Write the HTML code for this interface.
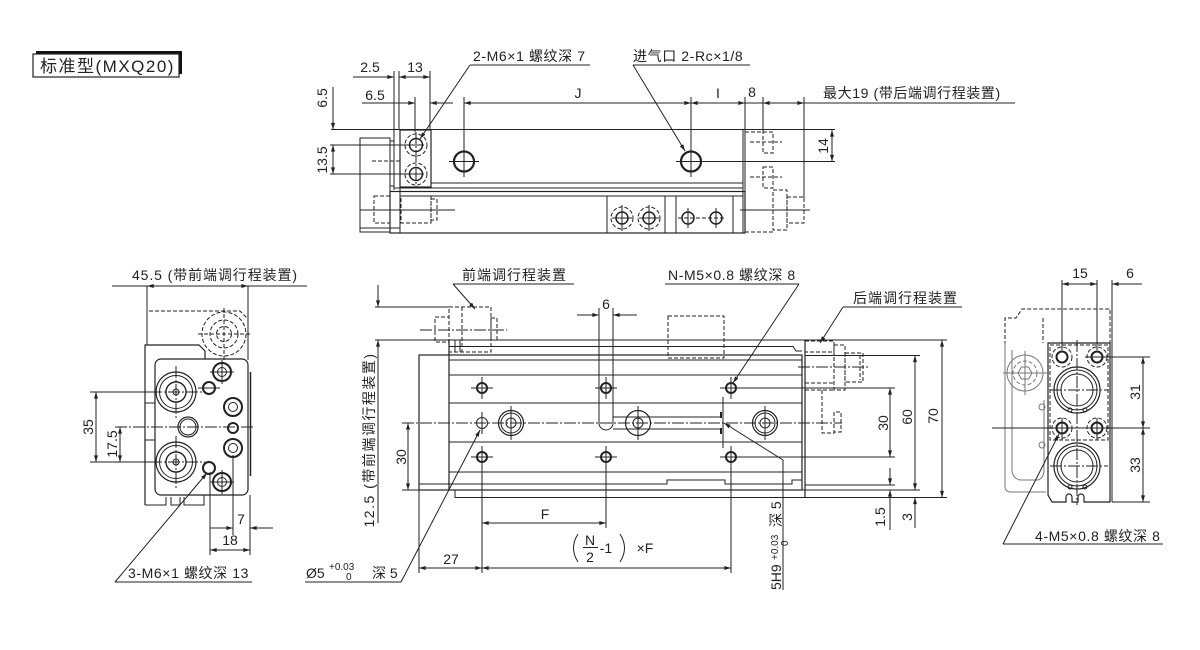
<!DOCTYPE html>
<html><head><meta charset="utf-8"><style>
html,body{margin:0;padding:0;background:#fff;}
svg{display:block;}
text{font-family:"Liberation Sans","Noto Sans CJK SC",sans-serif;font-size:14px;fill:#222;stroke:none;}
.l{letter-spacing:0.6px}
.d{stroke-dasharray:4 2}
.c{stroke-dasharray:12 2 2 2}
.g{stroke:#777}
.t{stroke-width:2}
</style></head><body>
<svg width="1200" height="650" viewBox="0 0 1200 650" xmlns="http://www.w3.org/2000/svg">
<defs>
<marker id="a" viewBox="0 0 10 6" refX="10" refY="3" markerWidth="8" markerHeight="4" orient="auto-start-reverse" markerUnits="userSpaceOnUse"><path d="M0,0L10,3L0,6z" fill="#222"/></marker>
</defs>
<rect width="1200" height="650" fill="#fff"/>

<!-- Title -->
<rect x="36" y="51" width="146" height="23" fill="#111"/>
<rect x="33" y="54" width="146" height="23" fill="#fff" stroke="#222" stroke-width="1.2"/>
<text x="40" y="72" style="font-size:17px;letter-spacing:1.5px">标准型(MXQ20)</text>

<g fill="none" stroke="#222" stroke-width="1">

<!-- ============ TOP VIEW ============ -->
<line x1="470" y1="65" x2="590" y2="65"/>
<line x1="470" y1="65" x2="420" y2="139" marker-end="url(#a)"/>
<line x1="633" y1="65" x2="750" y2="65"/>
<line x1="633" y1="65" x2="685" y2="151" marker-end="url(#a)"/>

<line x1="394" y1="71" x2="394" y2="190"/>
<line x1="399" y1="71" x2="399" y2="130"/>
<line x1="430" y1="71" x2="430" y2="130"/>
<line x1="353" y1="77" x2="394" y2="77" marker-end="url(#a)"/>
<line x1="399" y1="77" x2="430" y2="77" marker-start="url(#a)" marker-end="url(#a)"/>
<line x1="362" y1="103" x2="415" y2="103" marker-end="url(#a)"/>
<line x1="453" y1="103" x2="430" y2="103" marker-end="url(#a)"/>
<line x1="415" y1="97" x2="415" y2="132"/>
<line x1="464" y1="97" x2="464" y2="176"/>
<line x1="464" y1="103" x2="691" y2="103" marker-start="url(#a)" marker-end="url(#a)"/>
<line x1="691" y1="97" x2="691" y2="176"/>
<line x1="691" y1="103" x2="745" y2="103" marker-start="url(#a)" marker-end="url(#a)"/>
<line x1="745" y1="97" x2="745" y2="233"/>
<line x1="743" y1="129.5" x2="743" y2="233"/>
<line x1="745" y1="103" x2="763" y2="103"/>
<line x1="763" y1="97" x2="763" y2="132"/>
<line x1="763" y1="103" x2="804" y2="103" marker-start="url(#a)" marker-end="url(#a)"/>
<line x1="804" y1="103" x2="1015" y2="103"/>
<line x1="804" y1="97" x2="804" y2="200"/>

<line x1="333" y1="87" x2="333" y2="129.5" marker-end="url(#a)"/>
<line x1="333" y1="145" x2="333" y2="174" marker-start="url(#a)" marker-end="url(#a)"/>
<line x1="330" y1="145" x2="408" y2="145"/>
<line x1="330" y1="174" x2="408" y2="174"/>

<line x1="331" y1="129.5" x2="835" y2="129.5"/>
<rect x="360" y="138" width="30" height="94"/>
<line x1="360" y1="228" x2="400" y2="228"/>
<rect x="390" y="141" width="4" height="45"/>
<line x1="400" y1="130" x2="400" y2="233"/>
<rect x="400" y="130" width="31" height="57" stroke-width="1.2"/>
<circle cx="416" cy="145" r="6.5" stroke-width="1.5"/>
<circle cx="416" cy="145" r="11" class="d"/>
<circle cx="416" cy="174" r="6.5" stroke-width="1.5"/>
<circle cx="416" cy="174" r="11" class="d"/>
<line class="c" x1="416" y1="132" x2="416" y2="187"/>
<line x1="408" y1="145" x2="424" y2="145"/>
<line x1="408" y1="174" x2="424" y2="174"/>
<line class="d" x1="372" y1="161" x2="400" y2="161"/>

<circle cx="464" cy="161.5" r="10" stroke-width="2.2"/>
<line x1="449" y1="161.5" x2="479" y2="161.5"/>
<line x1="464" y1="146" x2="464" y2="177"/>
<circle cx="691" cy="161.5" r="10" stroke-width="2.2"/>
<line x1="676" y1="161.5" x2="835" y2="161.5"/>
<line x1="691" y1="146" x2="691" y2="177"/>

<line x1="431" y1="183" x2="743" y2="183"/>
<line x1="394" y1="188" x2="743" y2="188"/>
<rect x="390" y="191.5" width="355" height="41.5" stroke-width="1.2"/>
<line x1="400" y1="196" x2="743" y2="196"/>
<rect x="607" y="196" width="58" height="37"/>
<rect x="676" y="196" width="57" height="37"/>
<circle cx="622" cy="218" r="6" stroke-width="1.5"/>
<circle cx="622" cy="218" r="11" class="d"/>
<circle cx="649" cy="218" r="6" stroke-width="1.5"/>
<circle cx="649" cy="218" r="11" class="d"/>
<line x1="622" y1="205" x2="622" y2="231"/><line x1="612" y1="218" x2="632" y2="218"/>
<line x1="649" y1="205" x2="649" y2="231"/><line x1="639" y1="218" x2="659" y2="218"/>
<circle cx="688" cy="218" r="6" stroke-width="1.5"/>
<circle cx="716" cy="218" r="6" stroke-width="1.5"/>
<line class="d" x1="678" y1="218" x2="726" y2="218"/>
<line x1="688" y1="208" x2="688" y2="228"/><line x1="716" y1="208" x2="716" y2="228"/>
<rect class="d" x="374" y="196" width="16" height="27"/>
<rect class="d" x="401" y="196" width="30" height="27"/>
<rect class="d" x="431" y="199" width="6" height="21"/>
<line class="d" x1="400" y1="228" x2="400" y2="233"/>
<line x1="360" y1="210" x2="455" y2="210"/>

<line class="d" x1="745" y1="132" x2="763" y2="132"/>
<rect class="d" x="763" y="132" width="10" height="21"/>
<line class="d" x1="750" y1="142" x2="782" y2="142"/>
<rect class="d" x="763" y="167" width="10" height="21"/>
<line class="d" x1="750" y1="177" x2="782" y2="177"/>
<rect class="d" x="773" y="190" width="14" height="40"/>
<rect class="d" x="787" y="197" width="17" height="26"/>
<line class="d" x1="745" y1="232" x2="773" y2="232"/>
<line x1="740" y1="210" x2="810" y2="210"/>
<line x1="832" y1="130" x2="832" y2="161.5" marker-start="url(#a)" marker-end="url(#a)"/>

<!-- ============ LEFT END VIEW ============ -->
<line x1="112" y1="286" x2="307" y2="286"/>
<line x1="147" y1="286" x2="248" y2="286" marker-start="url(#a)" marker-end="url(#a)"/>
<line x1="147" y1="286" x2="147" y2="345"/>
<line x1="248" y1="286" x2="248" y2="360"/>
<path class="d" d="M147,345 V311 H240 L248,319 V360"/>
<circle class="d" cx="224" cy="334" r="22"/>
<circle class="d" cx="224" cy="334" r="14"/>
<circle class="d" cx="224" cy="334" r="7.5"/>
<line class="d" x1="198" y1="334" x2="252" y2="334"/>
<line class="d" x1="224" y1="308" x2="224" y2="360"/>

<path d="M145,505 V345 H199 L205,351 V359" stroke-width="1.2"/>
<rect x="155" y="359" width="93" height="136" rx="6" stroke-width="1.2"/>
<path d="M145,505 H166 V497 M171,497 V505 H180 V497 M184,497 V505 H204 V495" />
<line x1="250.5" y1="372" x2="250.5" y2="476" stroke-width="1.5"/>
<line x1="145" y1="403" x2="155" y2="403"/>
<line x1="145" y1="440" x2="155" y2="440"/>

<circle cx="176" cy="392" r="20" stroke-width="1.2"/>
<circle cx="176" cy="392" r="16.5"/>
<circle cx="176" cy="392" r="10" stroke-width="1.4"/>
<circle cx="176" cy="392" r="3"/>
<line class="c" x1="150" y1="392" x2="205" y2="392"/>
<line class="c" x1="176" y1="366" x2="176" y2="418"/>
<circle cx="176" cy="462" r="20" stroke-width="1.2"/>
<circle cx="176" cy="462" r="16.5"/>
<circle cx="176" cy="462" r="10" stroke-width="1.4"/>
<circle cx="176" cy="462" r="3"/>
<line class="c" x1="150" y1="462" x2="205" y2="462"/>
<line class="c" x1="176" y1="436" x2="176" y2="488"/>
<circle cx="188" cy="427" r="10" stroke-width="1.2"/>
<circle cx="188" cy="427" r="8"/>
<circle cx="209" cy="388" r="6" class="t"/>
<circle cx="209" cy="468" r="6" class="t"/>
<circle cx="233" cy="428" r="5" class="t"/>
<circle cx="222" cy="372" r="9" class="t"/><circle cx="222" cy="372" r="4.5"/>
<circle cx="233" cy="407" r="9" class="t"/><circle cx="233" cy="407" r="4.5"/>
<circle cx="233" cy="448" r="9" class="t"/><circle cx="233" cy="448" r="4.5"/>
<circle cx="222" cy="482" r="9" class="t"/><circle cx="222" cy="482" r="4.5"/>
<line x1="222" y1="360" x2="222" y2="384"/><line x1="210" y1="372" x2="234" y2="372"/>
<line x1="222" y1="470" x2="222" y2="494"/><line x1="210" y1="482" x2="234" y2="482"/>
<line x1="198" y1="388" x2="220" y2="388"/>

<line x1="90" y1="392" x2="160" y2="392"/>
<line x1="90" y1="462" x2="160" y2="462"/>
<line class="c" x1="115" y1="427" x2="255" y2="427"/>
<line x1="96" y1="392" x2="96" y2="462" marker-start="url(#a)" marker-end="url(#a)"/>
<line x1="120" y1="427" x2="120" y2="462" marker-start="url(#a)" marker-end="url(#a)"/>

<line x1="210" y1="472" x2="210" y2="555"/>
<line x1="233" y1="455" x2="233" y2="535"/>
<line x1="250" y1="495" x2="250" y2="555"/>
<line x1="210" y1="528" x2="233" y2="528" marker-end="url(#a)"/>
<line x1="273" y1="528" x2="250" y2="528" marker-end="url(#a)"/>
<line x1="210" y1="550" x2="250" y2="550" marker-start="url(#a)" marker-end="url(#a)"/>
<line x1="115" y1="582" x2="252" y2="582"/>
<line x1="115" y1="582" x2="207" y2="473" marker-end="url(#a)"/>

<!-- ============ FRONT VIEW ============ -->
<line x1="453" y1="284" x2="574" y2="284"/>
<line x1="453" y1="284" x2="475" y2="309" marker-end="url(#a)"/>
<line x1="665" y1="284" x2="799" y2="284"/>
<line x1="799" y1="284" x2="733" y2="383" marker-end="url(#a)"/>
<line x1="843" y1="307" x2="962" y2="307"/>
<line x1="843" y1="307" x2="820" y2="343" marker-end="url(#a)"/>

<line x1="577" y1="315" x2="599" y2="315" marker-end="url(#a)"/>
<line x1="637" y1="315" x2="613" y2="315" marker-end="url(#a)"/>
<line x1="599" y1="308" x2="599" y2="423"/>
<line x1="613" y1="308" x2="613" y2="423"/>
<path d="M599,423 A7,7 0 0 0 613,423"/>

<rect class="d" x="449" y="307" width="42" height="45"/>
<rect class="d" x="435" y="317" width="14" height="25"/>
<rect class="d" x="491" y="318" width="6" height="22"/>
<line class="d" x1="462" y1="307" x2="462" y2="352"/>
<line class="c" x1="420" y1="330" x2="507" y2="330"/>
<line x1="455" y1="340" x2="455" y2="352"/>
<line x1="460" y1="340" x2="460" y2="352"/>

<line x1="375" y1="307" x2="449" y2="307"/>
<line x1="375" y1="340" x2="947" y2="340"/>
<line x1="378" y1="285" x2="378" y2="307" marker-end="url(#a)"/>
<line x1="378" y1="523" x2="378" y2="340" marker-end="url(#a)"/>
<line x1="408" y1="423" x2="408" y2="490" marker-start="url(#a)" marker-end="url(#a)"/>

<path d="M449,346.5 H793 L796,351 H802"/>
<rect x="419" y="355" width="383" height="135" stroke-width="1.2"/>
<line x1="449" y1="340" x2="449" y2="490" stroke-width="1.2"/>
<line x1="805" y1="340" x2="805" y2="498" stroke-width="1.2"/>
<line x1="449" y1="360" x2="802" y2="360"/>
<line x1="449" y1="375" x2="802" y2="375"/>
<line x1="449" y1="403" x2="802" y2="403"/>
<line x1="449" y1="442" x2="802" y2="442"/>
<line x1="449" y1="472" x2="802" y2="472"/>
<path d="M419,484 H667 V480 H725 V484 H792 V480 H802"/>
<line x1="402" y1="490" x2="920" y2="490"/>
<path d="M455,490 V497.5 H947"/>
<line x1="805" y1="485" x2="895" y2="485"/>
<line x1="419" y1="490" x2="419" y2="573"/>
<rect class="d" x="668" y="316" width="56" height="42"/>

<!-- holes -->
<g class="t">
<circle cx="482" cy="388" r="5"/><circle cx="606" cy="388" r="5"/><circle cx="731" cy="388" r="5"/>
<circle cx="482" cy="457" r="5"/><circle cx="606" cy="457" r="5"/><circle cx="731" cy="457" r="5"/>
</g>
<line x1="471" y1="388" x2="493" y2="388"/><line x1="482" y1="377" x2="482" y2="399"/>
<line x1="595" y1="388" x2="617" y2="388"/><line x1="606" y1="377" x2="606" y2="399"/>
<line x1="720" y1="388" x2="895" y2="388"/><line x1="731" y1="377" x2="731" y2="399"/>
<line x1="471" y1="457" x2="493" y2="457"/><line x1="482" y1="446" x2="482" y2="573"/>
<line x1="595" y1="457" x2="617" y2="457"/><line x1="606" y1="446" x2="606" y2="528"/>
<line x1="720" y1="457" x2="895" y2="457"/><line x1="731" y1="446" x2="731" y2="573"/>
<circle cx="482" cy="423" r="5.5"/>
<line x1="482" y1="412" x2="482" y2="434"/>
<circle cx="511" cy="423" r="12.5" stroke-width="1.2"/><circle cx="511" cy="423" r="10"/><circle cx="511" cy="423" r="5"/>
<line x1="511" y1="406" x2="511" y2="440"/>
<circle cx="638" cy="423" r="12.5" stroke-width="1.2"/><circle cx="638" cy="423" r="5"/>
<line x1="638" y1="406" x2="638" y2="440"/>
<circle cx="765" cy="423" r="12.5" stroke-width="1.2"/><circle cx="765" cy="423" r="10"/><circle cx="765" cy="423" r="5"/>
<line x1="765" y1="406" x2="765" y2="440"/>
<line class="c" x1="402" y1="423" x2="842" y2="423"/>
<line x1="613" y1="417" x2="722" y2="417"/>
<line x1="613" y1="429" x2="722" y2="429"/>
<line x1="723" y1="397" x2="723" y2="448"/>
<line x1="721" y1="412" x2="721" y2="418" stroke-width="2"/>
<line x1="721" y1="428" x2="721" y2="434" stroke-width="2"/>
<polyline points="724,423 783,460 783,590" marker-start="url(#a)"/>

<!-- right device -->
<rect class="d" x="805" y="341" width="29" height="11"/>
<rect class="d" x="834" y="345" width="11" height="45"/>
<rect class="d" x="845" y="353" width="18" height="29"/>
<line class="d" x1="860" y1="355" x2="860" y2="380"/>
<line class="d" x1="805" y1="383" x2="834" y2="383"/>
<line class="d" x1="805" y1="390" x2="834" y2="390"/>
<path class="d" d="M822,390 V433 H834 V412 H841 V432 H834"/>
<line class="c" x1="798" y1="367" x2="868" y2="367"/>
<line x1="805" y1="355.5" x2="920" y2="355.5"/>

<!-- dims bottom / right -->
<line x1="482" y1="523" x2="606" y2="523" marker-start="url(#a)" marker-end="url(#a)"/>
<line x1="419" y1="568" x2="482" y2="568" marker-start="url(#a)" marker-end="url(#a)"/>
<line x1="482" y1="568" x2="731" y2="568" marker-start="url(#a)" marker-end="url(#a)"/>
<path d="M578,534 Q569,548 578,562"/>
<path d="M620,534 Q629,548 620,562"/>
<line x1="583" y1="547.5" x2="598" y2="547.5"/>
<line x1="305" y1="582" x2="401" y2="582"/>
<line x1="401" y1="582" x2="480" y2="430" marker-end="url(#a)"/>

<line x1="890" y1="388" x2="890" y2="457" marker-start="url(#a)" marker-end="url(#a)"/>
<line x1="915" y1="355.5" x2="915" y2="490" marker-start="url(#a)" marker-end="url(#a)"/>
<line x1="942" y1="340" x2="942" y2="497.5" marker-start="url(#a)" marker-end="url(#a)"/>
<line x1="890" y1="468" x2="890" y2="485" marker-end="url(#a)"/>
<line x1="890" y1="530" x2="890" y2="490" marker-end="url(#a)"/>
<line x1="915" y1="528" x2="915" y2="497.5" marker-end="url(#a)"/>

<!-- ============ RIGHT END VIEW ============ -->
<line x1="1062" y1="284" x2="1097" y2="284" marker-start="url(#a)" marker-end="url(#a)"/>
<line x1="1142" y1="284" x2="1112" y2="284" marker-end="url(#a)"/>
<line x1="1062" y1="280" x2="1062" y2="350"/>
<line x1="1097" y1="280" x2="1097" y2="350"/>
<line x1="1112" y1="280" x2="1112" y2="502"/>
<path class="d" d="M1005,345 V318 H1016 L1022,309 H1110 V343"/>
<line class="d" x1="1043" y1="318" x2="1043" y2="343"/>
<path class="g" d="M1005,343 V486 Q1005,492 1011,492 H1046"/>
<path class="g" d="M1012,350 V470 Q1012,478 1020,480 H1038 Q1044,478 1044,470 V400"/>
<circle class="g" cx="1025" cy="373" r="18"/>
<circle class="d g" cx="1025" cy="373" r="12"/>
<polygon class="g" points="1032,373 1028.5,379 1021.5,379 1018,373 1021.5,367 1028.5,367"/>
<line class="g" x1="1003" y1="373" x2="1047" y2="373"/>
<line class="g" x1="1025" y1="351" x2="1025" y2="395"/>
<circle class="g" cx="1042" cy="407" r="3"/>
<circle class="g" cx="1042" cy="445" r="3"/>

<path d="M1048,343 V495 L1052,502 H1066 V497 A3,3 0 0 1 1072,497 V502 H1078 V497 A3,3 0 0 1 1084,497 V502 H1110 V343 Z" stroke-width="1.2"/>
<rect class="d" x="1050" y="345" width="58" height="95"/>
<circle cx="1077" cy="390" r="23" stroke-width="1.2"/>
<circle cx="1077" cy="390" r="20"/>
<circle cx="1077" cy="390" r="16"/>
<circle cx="1070" cy="410" r="2"/><circle cx="1085" cy="410" r="2"/>
<circle cx="1077" cy="466" r="23" stroke-width="1.2"/>
<circle cx="1077" cy="466" r="20"/>
<circle cx="1077" cy="466" r="16"/>
<circle cx="1070" cy="487" r="2"/><circle cx="1085" cy="487" r="2"/>
<line class="c" x1="1077" y1="340" x2="1077" y2="505"/>
<line class="c" x1="1050" y1="390" x2="1108" y2="390"/>
<line class="c" x1="1050" y1="466" x2="1108" y2="466"/>
<circle cx="1062" cy="357" r="5.5" class="t"/><circle class="d" cx="1062" cy="357" r="10"/>
<circle cx="1097" cy="357" r="5.5" class="t"/><circle class="d" cx="1097" cy="357" r="10"/>
<circle cx="1062" cy="428" r="5.5" class="t"/><circle class="d" cx="1062" cy="428" r="10"/>
<circle cx="1097" cy="428" r="5.5" class="t"/><circle class="d" cx="1097" cy="428" r="10"/>
<line x1="1062" y1="418" x2="1062" y2="440"/><line x1="1097" y1="418" x2="1097" y2="440"/>
<line x1="1085" y1="357" x2="1150" y2="357"/>
<line x1="992" y1="428" x2="1150" y2="428"/>
<line x1="1112" y1="502" x2="1150" y2="502"/>
<line x1="1143" y1="357" x2="1143" y2="428" marker-start="url(#a)" marker-end="url(#a)"/>
<line x1="1143" y1="428" x2="1143" y2="502" marker-start="url(#a)" marker-end="url(#a)"/>
<line x1="1003" y1="544" x2="1163" y2="544"/>
<line x1="1003" y1="544" x2="1059" y2="434" marker-end="url(#a)"/>
</g>

<!-- ============ TEXT ============ -->
<text class="l" x="473" y="61">2-M6×1 螺纹深 7</text>
<text class="l" x="633" y="61">进气口 2-Rc×1/8</text>
<text class="l" x="823" y="98">最大19 (带后端调行程装置)</text>
<text x="370" y="72" text-anchor="middle">2.5</text>
<text x="415" y="72" text-anchor="middle">13</text>
<text x="375" y="100" text-anchor="middle">6.5</text>
<text x="578" y="98" text-anchor="middle">J</text>
<text x="718" y="98" text-anchor="middle">I</text>
<text x="752" y="97" text-anchor="middle">8</text>
<text transform="translate(327,98) rotate(-90)" text-anchor="middle">6.5</text>
<text transform="translate(327,160) rotate(-90)" text-anchor="middle">13.5</text>
<text transform="translate(828,146) rotate(-90)" text-anchor="middle">14</text>

<text x="132" y="280" style="letter-spacing:0.9px">45.5 (带前端调行程装置)</text>
<text transform="translate(93,427) rotate(-90)" text-anchor="middle">35</text>
<text transform="translate(117,444) rotate(-90)" text-anchor="middle">17.5</text>
<text x="241" y="524" text-anchor="middle">7</text>
<text x="230" y="545" text-anchor="middle">18</text>
<text class="l" x="128" y="578">3-M6×1 螺纹深 13</text>

<text x="462" y="280" style="letter-spacing:1px">前端调行程装置</text>
<text class="l" x="668" y="280">N-M5×0.8 螺纹深 8</text>
<text x="853" y="303" style="letter-spacing:1px">后端调行程装置</text>
<text x="606" y="309" text-anchor="middle">6</text>
<text transform="translate(374,440) rotate(-90)" text-anchor="middle" style="letter-spacing:1.5px">12.5 (带前端调行程装置)</text>
<text transform="translate(406,457) rotate(-90)" text-anchor="middle">30</text>
<text x="545" y="519" text-anchor="middle">F</text>
<text x="451" y="564" text-anchor="middle">27</text>
<text x="590" y="545" text-anchor="middle">N</text>
<text x="590" y="562" text-anchor="middle">2</text>
<text x="606" y="553" text-anchor="middle">-1</text>
<text x="645" y="553" text-anchor="middle">×F</text>
<text x="306" y="578">Ø5</text>
<text x="329" y="570" style="font-size:10px">+0.03</text>
<text x="346" y="580" style="font-size:10px">0</text>
<text x="372" y="578">深 5</text>
<text transform="translate(781,590) rotate(-90)">5H9</text>
<text transform="translate(778,560) rotate(-90)" style="font-size:10px">+0.03</text>
<text transform="translate(788,546) rotate(-90)" style="font-size:10px">0</text>
<text transform="translate(781,527) rotate(-90)">深 5</text>
<text transform="translate(888,423) rotate(-90)" text-anchor="middle">30</text>
<text transform="translate(912,417) rotate(-90)" text-anchor="middle">60</text>
<text transform="translate(938,416) rotate(-90)" text-anchor="middle">70</text>
<text transform="translate(885,517) rotate(-90)" text-anchor="middle">1.5</text>
<text transform="translate(912,517) rotate(-90)" text-anchor="middle">3</text>

<text x="1080" y="278" text-anchor="middle">15</text>
<text x="1130" y="278" text-anchor="middle">6</text>
<text transform="translate(1140,392) rotate(-90)" text-anchor="middle">31</text>
<text transform="translate(1140,465) rotate(-90)" text-anchor="middle">33</text>
<text class="l" x="1035" y="541">4-M5×0.8 螺纹深 8</text>
</svg>
</body></html>
